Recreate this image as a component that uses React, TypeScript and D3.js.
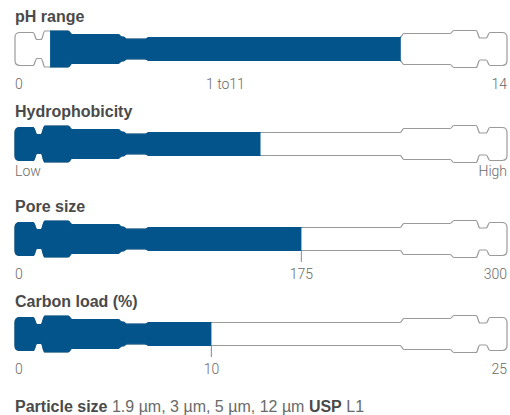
import React from "react";
import * as d3 from "d3";

const rowTitles = ["pH range", "Hydrophobicity", "Pore size", "Carbon load (%)"];
const domainMin = [0, 0, 0, 0];
const domainMax = [14, 1, 300, 25];
const fillFrom = [1, 0, 0, 0];
const fillTo = [11, 0.5, 175, 10];
const labelTexts = [["0", "1 to11", "14"], ["Low", "High"], ["0", "175", "300"], ["0", "10", "25"]];
const labelValues = [[0, 6, 14], [0, 1], [0, 175, 300], [0, 10, 25]];
const showTick = [false, false, true, true];
const footnoteParts = [
  { text: "Particle size", bold: true },
  { text: " 1.9 µm, 3 µm, 5 µm, 12 µm ", bold: false },
  { text: "USP", bold: true },
  { text: " L1", bold: false },
];

// layout (pixels)
const W = 510, H = 415;
const X0 = 15, X1 = 506;
const ROW0 = 49, ROW_STEP = 95;
const BLUE = "#02548a";
const OUTLINE = "#9a9a9a";

// column profile: [x start, x end, half height]
const profile: [number, number, number][] = [
  [15, 35, 16.5],
  [35, 43, 9.5],
  [43, 70, 18],
  [70, 120, 14.5],
  [120, 125, 12],
  [125, 147, 9.8],
  [147, 402, 11.5],
  [402, 452, 15.5],
  [452, 478, 18.5],
  [478, 488, 11],
  [488, 507, 16.5],
];

function tubePath(cy: number): string {
  const p = d3.path();
  const r = 5;
  const w = 2;
  const n = profile.length;
  const xs = profile[0][0];
  const xe = profile[n - 1][1];
  const h0 = profile[0][2];
  const hn = profile[n - 1][2];
  p.moveTo(xs, cy);
  p.lineTo(xs, cy - h0 + r);
  p.quadraticCurveTo(xs, cy - h0, xs + r, cy - h0);
  for (let i = 0; i < n - 1; i++) {
    const b = profile[i][1];
    const ha = profile[i][2], hb = profile[i + 1][2];
    p.lineTo(b - w, cy - ha);
    p.bezierCurveTo(b, cy - ha, b, cy - hb, b + w, cy - hb);
  }
  p.lineTo(xe - r, cy - hn);
  p.quadraticCurveTo(xe, cy - hn, xe, cy - hn + r);
  p.lineTo(xe, cy + hn - r);
  p.quadraticCurveTo(xe, cy + hn, xe - r, cy + hn);
  for (let i = n - 1; i > 0; i--) {
    const b = profile[i][0];
    const ha = profile[i][2], hb = profile[i - 1][2];
    p.lineTo(b + w, cy + ha);
    p.bezierCurveTo(b, cy + ha, b, cy + hb, b - w, cy + hb);
  }
  p.lineTo(xs + r, cy + h0);
  p.quadraticCurveTo(xs, cy + h0, xs, cy + h0 - r);
  p.closePath();
  return p.toString();
}

const TITLE_FONT = "'Liberation Sans', Arial, sans-serif";
const LABEL_FONT = "Roboto, 'Liberation Sans', sans-serif";

export default function App() {
  return (
    <svg width={W} height={H} style={{ position: "absolute", left: 0, top: 0, background: "#fff" }}>
      {rowTitles.map((title, i) => {
        const cy = ROW0 + i * ROW_STEP;
        const x = d3.scaleLinear().domain([domainMin[i], domainMax[i]]).range([X0, X1]);
        const d = tubePath(cy);
        const lo = fillFrom[i] === domainMin[i] ? 0 : x(fillFrom[i]);
        const hi = x(fillTo[i]);
        const clipId = `clip-${i}`;
        const labelY = cy + (showTick[i] || i === 0 ? 39.5 : 32);
        const last = labelTexts[i].length - 1;
        return (
          <g key={title}>
            <text x={15} y={cy - 27.5} fontFamily={TITLE_FONT} fontWeight="bold" fontSize={16} fill="#4a4a4a">
              {title}
            </text>
            <defs>
              <clipPath id={clipId}>
                <rect x={lo} y={cy - 25} width={hi - lo} height={50} />
              </clipPath>
            </defs>
            <path d={d} fill="#fff" stroke={OUTLINE} strokeWidth={1.2} />
            <path d={d} fill={BLUE} stroke={BLUE} strokeWidth={1.2} clipPath={`url(#${clipId})`} />
            {showTick[i] && (
              <line x1={hi} x2={hi} y1={cy + 11.5} y2={cy + 23} stroke={OUTLINE} strokeWidth={1.2} />
            )}
            {labelTexts[i].map((t, j) => (
              <text
                key={t + j}
                x={j === 0 ? 15 : j === last ? 507 : x(labelValues[i][j])}
                y={labelY}
                textAnchor={j === 0 ? "start" : j === last ? "end" : "middle"}
                fontFamily={LABEL_FONT}
                fontWeight={300}
                fontSize={14}
                fill="#6a6a6a"
              >
                {t}
              </text>
            ))}
          </g>
        );
      })}
      <text x={15} y={411.5} fontFamily={TITLE_FONT} fontSize={16} fill="#555">
        {footnoteParts.map((p, k) => (
          <tspan key={k} fontWeight={p.bold ? "bold" : "normal"} fill={p.bold ? "#4a4a4a" : "#6a6a6a"}>
            {p.text}
          </tspan>
        ))}
      </text>
    </svg>
  );
}
